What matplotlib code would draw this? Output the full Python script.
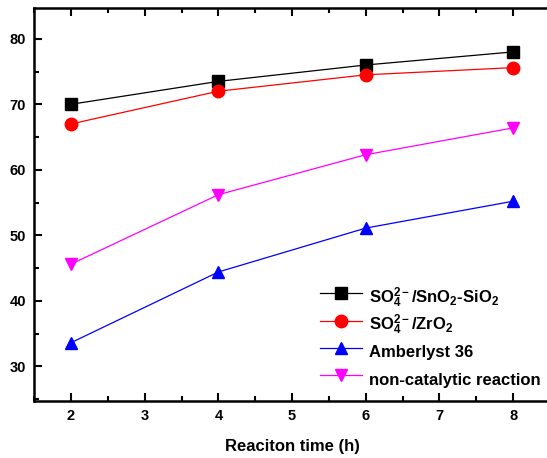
import matplotlib.pyplot as plt
from matplotlib.ticker import MultipleLocator

plt.rcParams['font.family'] = ['Liberation Sans', 'DejaVu Sans']
plt.rcParams['font.weight'] = 'bold'
plt.rcParams['mathtext.fontset'] = 'custom'
plt.rcParams['mathtext.rm'] = 'Liberation Sans:bold'
plt.rcParams['mathtext.it'] = 'Liberation Sans:bold'
plt.rcParams['mathtext.bf'] = 'Liberation Sans:bold'
plt.rcParams['mathtext.default'] = 'rm'

hours = [2, 4, 6, 8]
sno2_sio2 = [70.0, 73.5, 76.0, 78.0]
zro2 = [67.0, 72.0, 74.5, 75.6]
amberlyst = [33.6, 44.4, 51.1, 55.2]
non_cat = [45.6, 56.2, 62.3, 66.4]

labels = [r'SO$_4^{2-}$/SnO$_2$-SiO$_2$', r'SO$_4^{2-}$/ZrO$_2$',
          'Amberlyst 36', 'non-catalytic reaction']

fig = plt.figure(figsize=(5.47, 4.58), dpi=100)
ax = fig.add_axes([0.0625, 0.1245, 0.943, 0.858])

ax.plot(hours, sno2_sio2, color='black', marker='s', markersize=8, lw=0.9, label=labels[0])
ax.plot(hours, zro2, color='red', marker='o', markersize=9, lw=0.9, label=labels[1])
ax.plot(hours, amberlyst, color='blue', marker='^', markersize=9, lw=0.9, label=labels[2])
ax.plot(hours, non_cat, color='magenta', marker='v', markersize=9, lw=0.9, label=labels[3])

ax.set_xlim(1.5, 8.5)
ax.set_ylim(24.7, 84.7)
ax.xaxis.set_major_locator(MultipleLocator(1))
ax.xaxis.set_minor_locator(MultipleLocator(0.5))
ax.yaxis.set_major_locator(MultipleLocator(10))
ax.yaxis.set_minor_locator(MultipleLocator(5))
ax.tick_params(which='both', direction='in', top=True, right=False, width=1.5, labelsize=10.5, pad=6)
ax.tick_params(which='major', length=6)
ax.tick_params(which='minor', length=3.5)
for s in ax.spines.values():
    s.set_linewidth(1.8)
ax.spines['right'].set_visible(False)

ax.set_xlabel('Reaciton time (h)', fontsize=12, fontweight='bold', labelpad=11)

ax.legend(loc='lower right', bbox_to_anchor=(1.004, -0.01), frameon=False, fontsize=12,
          handlelength=2.5, handleheight=2.15, handletextpad=0.4, labelspacing=0.0,
          borderaxespad=0.3)

fig.savefig('out.png', dpi=100)
